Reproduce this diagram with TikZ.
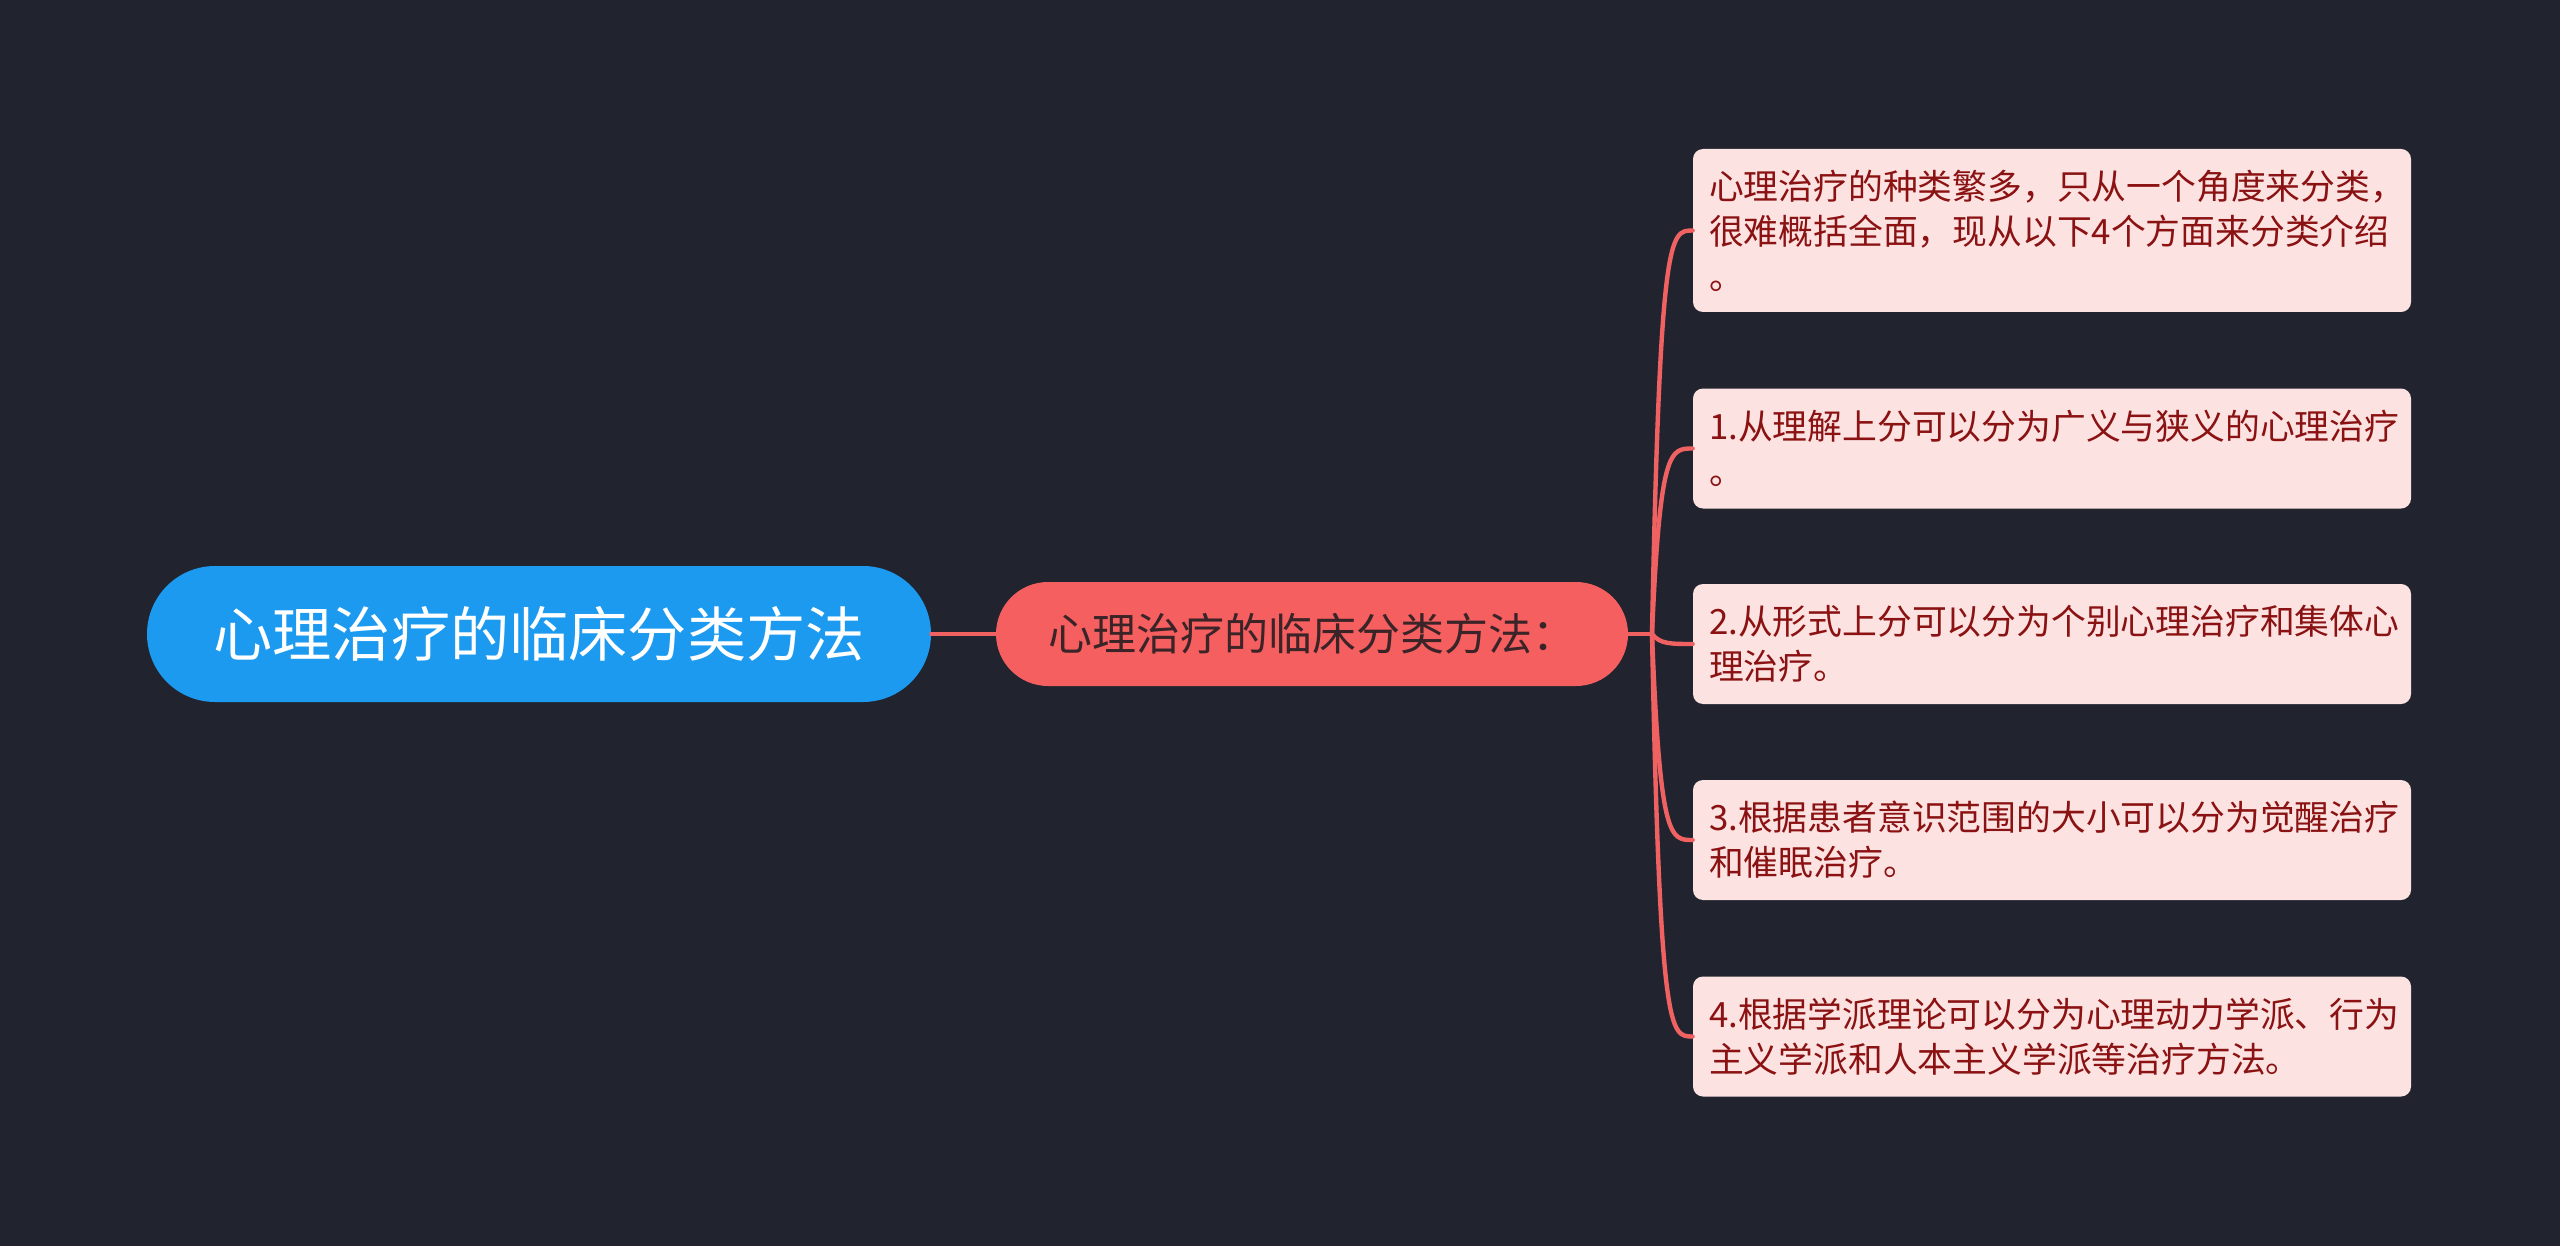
\documentclass[tikz,border=0pt]{standalone}
\usepackage{fontspec}
\setmainfont{Noto Sans CJK SC}
\usetikzlibrary{calc}
\definecolor{bg}{HTML}{21242F}
\definecolor{rootblue}{HTML}{1B9AF0}
\definecolor{midred}{HTML}{F65F5F}
\definecolor{midtext}{HTML}{3A2428}
\definecolor{leaffill}{HTML}{FDE2E2}
\definecolor{leaftext}{HTML}{8A1212}
\definecolor{conncol}{HTML}{F06262}
\tikzset{
  rootnode/.style={fill=rootblue, text=white, rounded corners=34pt, minimum width=392pt, minimum height=68pt, inner sep=0pt, font=\fontsize{29.6}{35}\selectfont},
  midnode/.style={fill=midred, text=midtext, rounded corners=26pt, minimum width=316pt, minimum height=52pt, inner sep=0pt, font=\fontsize{22}{26}\selectfont},
  leafnode/.style={fill=leaffill, text=leaftext, rounded corners=5pt, text width=343pt, inner xsep=8pt, inner ysep=0pt, align=left, font=\fontsize{17.4}{22.5}\selectfont},
  conn/.style={draw=conncol, line width=2.2pt, line cap=round},
}
\begin{document}
\begin{tikzpicture}[x=0.5pt,y=-0.5pt]
\fill[bg] (0,0) rectangle (2560,1246);
\useasboundingbox (0,0) rectangle (2560,1246);
\node[rootnode] (root) at (539,634) {心理治疗的临床分类方法};
\node[midnode] (mid) at (1312,634) {心理治疗的临床分类方法：};
\node[leafnode, minimum height=81.5pt] (l1) at (2052,230.5) {心理治疗的种类繁多，只从一个角度来分类，\\很难概括全面，现从以下4个方面来分类介绍\\。};
\node[leafnode, minimum height=60pt] (l2) at (2052,448.5) {1.从理解上分可以分为广义与狭义的心理治疗\\。};
\node[leafnode, minimum height=60pt] (l3) at (2052,644) {2.从形式上分可以分为个别心理治疗和集体心\\理治疗。};
\node[leafnode, minimum height=60pt] (l4) at (2052,840) {3.根据患者意识范围的大小可以分为觉醒治疗\\和催眠治疗。};
\node[leafnode, minimum height=60pt] (l5) at (2052,1036.5) {4.根据学派理论可以分为心理动力学派、行为\\主义学派和人本主义学派等治疗方法。};
\coordinate (j) at (1652,634);
\draw[conn] (root.east) -- (mid.west);
\draw[conn] (mid.east) -- (j);
\foreach \n in {l1,l2,l3,l4,l5}{
  \draw[conn] (j) .. controls ($(j |- \n.west)+(8,0)$) and ($(j |- \n.west)+(18,0)$) .. (\n.west);
}
\end{tikzpicture}
\end{document}
